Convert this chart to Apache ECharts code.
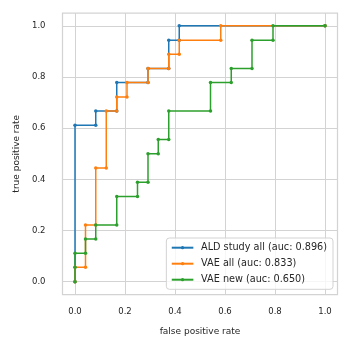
<!DOCTYPE html>
<html>
<head>
<meta charset="utf-8">
<script src="https://cdn.jsdelivr.net/npm/echarts@6/dist/echarts.min.js"></script>
<style>
html,body{margin:0;padding:0;background:#fff;}
#chart{width:352px;height:352px;}
</style>
</head>
<body>
<div id="chart"></div>
<script>
// Tick labels
const xTicks = [0, 0.2, 0.4, 0.6, 0.8, 1.0];
const yTicks = [0, 0.2, 0.4, 0.6, 0.8, 1.0];

// Series names
const seriesNames = [
  'ALD study all (auc: 0.896)',
  'VAE all (auc: 0.833)',
  'VAE new (auc: 0.650)'
];

// ALD study all ROC points
const aldFpr = [0, 0, 0.083, 0.083, 0.167, 0.167, 0.292, 0.292, 0.375, 0.375, 0.417, 0.417, 1.0];
const aldTpr = [0, 0.611, 0.611, 0.667, 0.667, 0.778, 0.778, 0.833, 0.833, 0.944, 0.944, 1.0, 1.0];

// VAE all ROC points
const vaeAllFpr = [0, 0, 0.042, 0.042, 0.083, 0.083, 0.125, 0.125, 0.167, 0.167, 0.208, 0.208, 0.292, 0.292, 0.375, 0.375, 0.417, 0.417, 0.583, 0.583, 1.0];
const vaeAllTpr = [0, 0.056, 0.056, 0.222, 0.222, 0.444, 0.444, 0.667, 0.667, 0.722, 0.722, 0.778, 0.778, 0.833, 0.833, 0.889, 0.889, 0.944, 0.944, 1.0, 1.0];

// VAE new ROC points
const vaeNewFpr = [0, 0, 0, 0.042, 0.042, 0.083, 0.083, 0.167, 0.167, 0.25, 0.25, 0.292, 0.292, 0.333, 0.333, 0.375, 0.375, 0.542, 0.542, 0.625, 0.625, 0.708, 0.708, 0.792, 0.792, 1.0];
const vaeNewTpr = [0, 0.056, 0.111, 0.111, 0.167, 0.167, 0.222, 0.222, 0.333, 0.333, 0.389, 0.389, 0.5, 0.5, 0.556, 0.556, 0.667, 0.667, 0.778, 0.778, 0.833, 0.833, 0.944, 0.944, 1.0, 1.0];

const colors = ['#1f77b4', '#ff7f0e', '#2ca02c'];

function pairs(xs, ys) { return xs.map((x, i) => [x, ys[i]]); }

const FONT = 'DejaVu Sans';
const TXT = '#262626';
const GRIDC = '#d3d3d3';

const chart = echarts.init(document.getElementById('chart'), null, {renderer: 'canvas'});

function mkSeries(name, data, color) {
  return {
    name: name,
    type: 'line',
    data: data,
    symbol: 'circle',
    symbolSize: 3.5,
    showSymbol: true,
    lineStyle: {width: 1.5, color: color},
    itemStyle: {color: color},
    emphasis: {disabled: true},
    animation: false
  };
}

chart.setOption({
  animation: false,
  backgroundColor: '#ffffff',
  grid: {
    left: 62.5, right: 14.5, top: 13, bottom: 57.5,
    show: true, borderColor: GRIDC, borderWidth: 1.25, containLabel: false
  },
  xAxis: {
    type: 'value', min: -0.05, max: 1.05,
    name: 'false positive rate', nameLocation: 'middle', nameGap: 33,
    nameTextStyle: {fontFamily: FONT, fontSize: 9, color: TXT},
    axisLine: {show: false},
    axisTick: {show: false, customValues: xTicks},
    axisLabel: {customValues: xTicks, fontFamily: FONT, fontSize: 8.5, color: TXT, margin: 13,
      formatter: v => v.toFixed(1)},
    splitLine: {show: true, lineStyle: {color: GRIDC, width: 1}}
  },
  yAxis: {
    type: 'value', min: -0.05, max: 1.05,
    name: 'true positive rate', nameLocation: 'middle', nameGap: 31,
    nameTextStyle: {fontFamily: FONT, fontSize: 9, color: TXT},
    axisLine: {show: false},
    axisTick: {show: false, customValues: yTicks},
    axisLabel: {customValues: yTicks, fontFamily: FONT, fontSize: 8.5, color: TXT, margin: 17,
      formatter: v => v.toFixed(1)},
    splitLine: {show: true, lineStyle: {color: GRIDC, width: 1}}
  },
  legend: {
    orient: 'vertical',
    right: 19, bottom: 62.7,
    itemWidth: 21.6, itemHeight: 4, itemGap: 4,
    padding: [3.7, 6, 3.6, 4.4],
    backgroundColor: 'rgba(255,255,255,0.8)',
    borderColor: GRIDC, borderWidth: 1, borderRadius: 3,
    textStyle: {fontFamily: FONT, fontSize: 9.7, lineHeight: 12, color: TXT, padding: [0, 0, 0, 2.7]},
    data: seriesNames
  },
  series: [
    mkSeries(seriesNames[0], pairs(aldFpr, aldTpr), colors[0]),
    mkSeries(seriesNames[1], pairs(vaeAllFpr, vaeAllTpr), colors[1]),
    mkSeries(seriesNames[2], pairs(vaeNewFpr, vaeNewTpr), colors[2])
  ]
});
</script>
</body>
</html>
